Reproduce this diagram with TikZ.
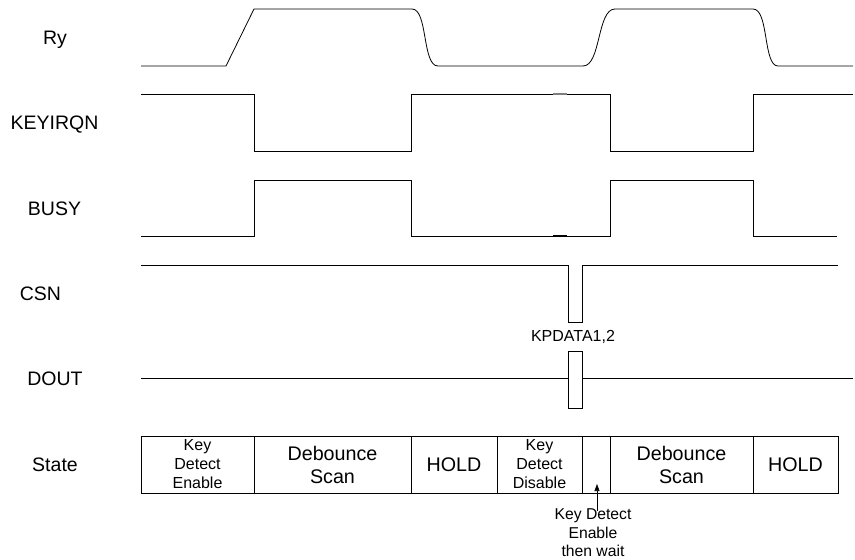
\documentclass[tikz,border=0pt]{standalone}
\usepackage{fontspec}
\setmainfont{Liberation Sans}
\usetikzlibrary{arrows.meta}
\begin{document}
\begin{tikzpicture}[x=1pt,y=-1pt,
  wave/.style={line width=0.8pt, line join=miter},
  siglabel/.style={anchor=base, inner sep=0pt, font=\fontsize{19.5}{23}\selectfont},
  cell/.style={draw, line width=0.8pt, inner sep=0pt, minimum height=57pt, align=center},
  bigtext/.style={font=\fontsize{19.7}{23}\selectfont},
  smalltext/.style={font=\fontsize{16}{19}\selectfont},
  notetext/.style={font=\fontsize{15.7}{18.5}\selectfont, align=center, inner sep=0pt},
]
\useasboundingbox (0,0) rectangle (855,560);

% signal labels
\node[siglabel] (lRy)    at (55,44)   {Ry};
\node[siglabel] (lKEY)   at (54.5,129) {KEYIRQN};
\node[siglabel] (lBUSY)  at (54.5,215) {BUSY};
\node[siglabel] (lCSN)   at (40.5,300) {CSN};
\node[siglabel] (lDOUT)  at (55,385)  {DOUT};
\node[siglabel] (lState) at (55,471)  {State};

% Ry
\draw[wave] (141,66) -- (226,66) -- (254,9) -- (412,9)
  .. controls (428,9) and (422,66) .. (438,66) -- (583,66)
  .. controls (601,66) and (597,9) .. (615,9) -- (753,9)
  .. controls (769,9) and (763,66) .. (778,66) -- (853,66);

% KEYIRQN
\draw[wave] (141,94) -- (254,94) -- (254,151) -- (411,151) -- (411,94)
  -- (610,94) -- (610,151) -- (753,151) -- (753,94) -- (853,94);
\draw[line width=1.4pt, gray] (553,94) -- (567,94);

% BUSY
\draw[wave] (141,236) -- (254,236) -- (254,180) -- (411,180) -- (411,236)
  -- (610,236) -- (610,180) -- (753,180) -- (753,236) -- (837,236);
\draw[line width=1.8pt] (553,236) -- (567,236);

% CSN
\draw[wave] (141,265) -- (568,265) -- (568,322) -- (582,322) -- (582,265) -- (838,265);
\node[anchor=base, inner sep=0pt, font=\fontsize{16}{19}\selectfont] (kp) at (573,341) {KPDATA1,2};

% DOUT
\draw[wave] (141,378) -- (853,378);
\node[draw, fill=white, line width=0.8pt, inner sep=0pt, minimum width=14pt, minimum height=57pt] (dbox) at (575,379.5) {};

% State row
\node[cell, smalltext, minimum width=113pt] (s1) at (197.5,464.5) {Key\\Detect\\Enable};
\node[cell, bigtext,   minimum width=157pt] (s2) at (332.5,464.5) {Debounce\\Scan};
\node[cell, bigtext,   minimum width=86pt]  (s3) at (454,464.5)   {HOLD};
\node[cell, smalltext, minimum width=85pt]  (s4) at (539.5,464.5) {Key\\Detect\\Disable};
\node[cell,            minimum width=28pt]  (s5) at (596,464.5)   {};
\node[cell, bigtext,   minimum width=143pt] (s6) at (681.5,464.5) {Debounce\\Scan};
\node[cell, bigtext,   minimum width=85pt]  (s7) at (795.5,464.5) {HOLD};

% note and arrow
\node[notetext] (note) at (593,533) {Key Detect\\Enable\\then wait};
\coordinate (tail) at (597,511);
\coordinate (tip) at (597,484);
\draw[line width=0.6pt, -{Triangle[length=7pt,width=5pt]}] (tail) -- (tip);
\end{tikzpicture}
\end{document}
